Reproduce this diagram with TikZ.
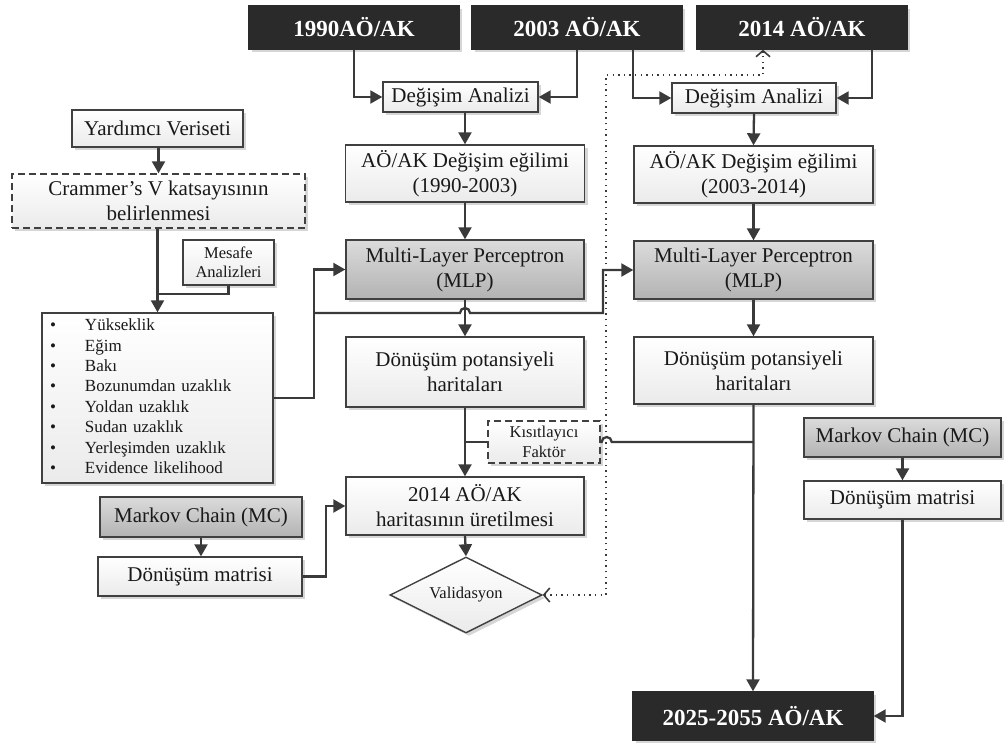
\documentclass[tikz,border=0pt]{standalone}
\usepackage{fontspec}
\setmainfont{Liberation Serif}
\usetikzlibrary{arrows.meta,shapes.geometric,shadows,calc}
\definecolor{ink}{HTML}{3A3A3A}
\definecolor{edge}{HTML}{404040}
\definecolor{darkfill}{HTML}{2A2A2A}

\tikzset{
  base/.style={draw=edge, line width=1.4pt, inner sep=2pt, align=center,
    text=black!90, font=\fontsize{21}{25}\selectfont,
    drop shadow={shadow xshift=3pt, shadow yshift=-3pt, opacity=0.16, fill=black}},
  plainbox/.style={base, top color=white, bottom color=black!8},
  greybox/.style={base, top color=black!14, bottom color=black!30},
  darkbox/.style={base, fill=darkfill, draw=darkfill, text=white,
    font=\bfseries\fontsize{23}{27}\selectfont},
  dashbox/.style={plainbox, dash pattern=on 7pt off 4pt},
  small/.style={font=\fontsize{16.5}{19.5}\selectfont},
  sz/.style 2 args={minimum width=#1pt, minimum height=#2pt},
  conn/.style={draw=ink, line width=2.3pt, -{Triangle[length=12pt,width=13pt]}},
  link/.style={draw=ink, line width=2.3pt},
  dotlink/.style={draw=ink, line width=1.6pt, dash pattern=on 1.4pt off 4.2pt,
    {Straight Barb[length=6pt,width=14pt]}-{Straight Barb[length=6pt,width=14pt]}},
}

\begin{document}
\begin{tikzpicture}[x=1pt,y=-1pt]
\useasboundingbox (0,0) rectangle (1005,744);

% land use / land cover inputs and output
\node[darkbox, sz={210}{43}] (y1990) at (354,27.5) {1990AÖ/AK};
\node[darkbox, sz={210}{43}] (y2003) at (577,27.5) {2003 AÖ/AK};
\node[darkbox, sz={210}{43}] (y2014) at (802,27.5) {2014 AÖ/AK};
\node[darkbox, sz={240}{48}] (y2025) at (753,716) {2025-2055 AÖ/AK};

% change analysis, first period
\node[plainbox, sz={155}{30}] (da1) at (460.5,97) {Değişim Analizi};
\node[plainbox, sz={239}{57}] (tr1) at (465,173.5) {AÖ/AK Değişim eğilimi\\(1990-2003)};
\node[greybox, sz={238}{59}] (mlp1) at (465,269.5) {Multi-Layer Perceptron\\(MLP)};
\node[plainbox, sz={238}{70}] (dp1) at (465,372) {Dönüşüm potansiyeli\\haritaları};
\node[plainbox, sz={238}{58}] (map14) at (465,506) {2014 AÖ/AK\\haritasının üretilmesi};
\node[plainbox, diamond, aspect=2, sz={152}{76}, small, inner sep=0pt] (val) at (466,595) {Validasyon};
\node[dashbox, sz={112}{42}, small] (kis) at (544,442) {Kısıtlayıcı\\Faktör};

% change analysis, second period
\node[plainbox, sz={164}{30}] (da2) at (754,98) {Değişim Analizi};
\node[plainbox, sz={239}{57}] (tr2) at (753.5,174.5) {AÖ/AK Değişim eğilimi\\(2003-2014)};
\node[greybox, sz={239}{58}] (mlp2) at (753.5,270) {Multi-Layer Perceptron\\(MLP)};
\node[plainbox, sz={239}{67}] (dp2) at (753.5,370.5) {Dönüşüm potansiyeli\\haritaları};
\node[greybox, sz={197}{39}] (mc2) at (902.5,437.5) {Markov Chain (MC)};
\node[plainbox, sz={197}{38}] (dm2) at (902.5,500) {Dönüşüm matrisi};

% auxiliary data and driving factors
\node[plainbox, sz={171}{37}] (yard) at (157.5,128.5) {Yardımcı Veriseti};
\node[dashbox, sz={293}{54}] (cram) at (158.5,201) {Crammer’s V katsayısının\\belirlenmesi};
\node[plainbox, sz={91}{45}, small] (mesafe) at (228.5,262.5) {Mesafe\\Analizleri};
\node[plainbox, sz={231}{170}, text width=221pt, align=left,
      font=\fontsize{17}{20.4}\selectfont] (factors) at (157.5,398)
  {\begin{tabular}{@{\hspace{3pt}}p{35pt}@{}l@{}}
   \textbullet & Yükseklik\\
   \textbullet & Eğim\\
   \textbullet & Bakı\\
   \textbullet & Bozunumdan uzaklık\\
   \textbullet & Yoldan uzaklık\\
   \textbullet & Sudan uzaklık\\
   \textbullet & Yerleşimden uzaklık\\
   \textbullet & Evidence likelihood
   \end{tabular}};
\node[greybox, sz={202}{40}] (mc1) at (201,517) {Markov Chain (MC)};
\node[plainbox, sz={204}{39}] (dm1) at (200,576.5) {Dönüşüm matrisi};

% helper points of the factor bus
\coordinate (fx) at ($(factors.east)+(40,0)$);
\coordinate (bus) at (313,313);
\coordinate (bend) at (603,313);
\coordinate (dottop) at (606,75);

% inputs into the change analyses
\draw[conn] (y1990.south) |- (da1.west);
\draw[conn] (y2003.south) |- (da1.east);
\draw[conn] ([xshift=-50pt]y2003.south east) |- (da2.west);
\draw[conn] ([xshift=-36pt]y2014.south east) |- (da2.east);

% first column
\draw[conn] (tr1.north |- da1.south) -- (tr1.north);
\draw[conn] (tr1.south) -- (mlp1.north);
\draw[conn] (mlp1.south) -- (dp1.north);
\draw[conn] (dp1.south) -- (map14.north);
\draw[conn] (map14.south) -- (val.north);

% second column
\draw[conn] (da2.south) -- (tr2.north);
\draw[conn] (tr2.south) -- (mlp2.north);
\draw[conn] (mlp2.south) -- (dp2.north);
\draw[conn] (dp2.south) -- (y2025.north);
\draw[conn] (mc2.south) -- (dm2.north);
\draw[conn] (dm2.south) |- (y2025.east);

% factors branch
\draw[conn] (yard.south) -- (cram.south |- yard.south) -- (cram.north);
\draw[conn] (factors.north |- cram.south) -- (factors.north);
\draw[link] (mesafe.south) |- ([yshift=18pt]factors.north);
\draw[conn] (factors.east) -- (fx) |- (mlp1.west);
\draw[conn] (bus) -- ($(bus -| mlp1.south)+(-5,0)$)
  arc[start angle=180, end angle=0, radius=5pt] -- (bend) |- (mlp2.west);

% Markov chain of the first period
\draw[conn] (mc1.south) -- (mc1.south |- dm1.north);
\draw[conn] (dm1.east) -- ++(23,0) |- (map14.west);

% constraint factor
\draw[link] (kis.west) -- (kis.west -| map14.north);
\draw[link] (kis.east) -- ++(1,0)
  arc[start angle=180, end angle=0, radius=5pt] -- (kis.east -| dp2.south);

% validation against the 2014 map
\draw[dotlink] (val.east) -| (dottop) -| ([xshift=-39pt]y2014.south);
\end{tikzpicture}
\end{document}
